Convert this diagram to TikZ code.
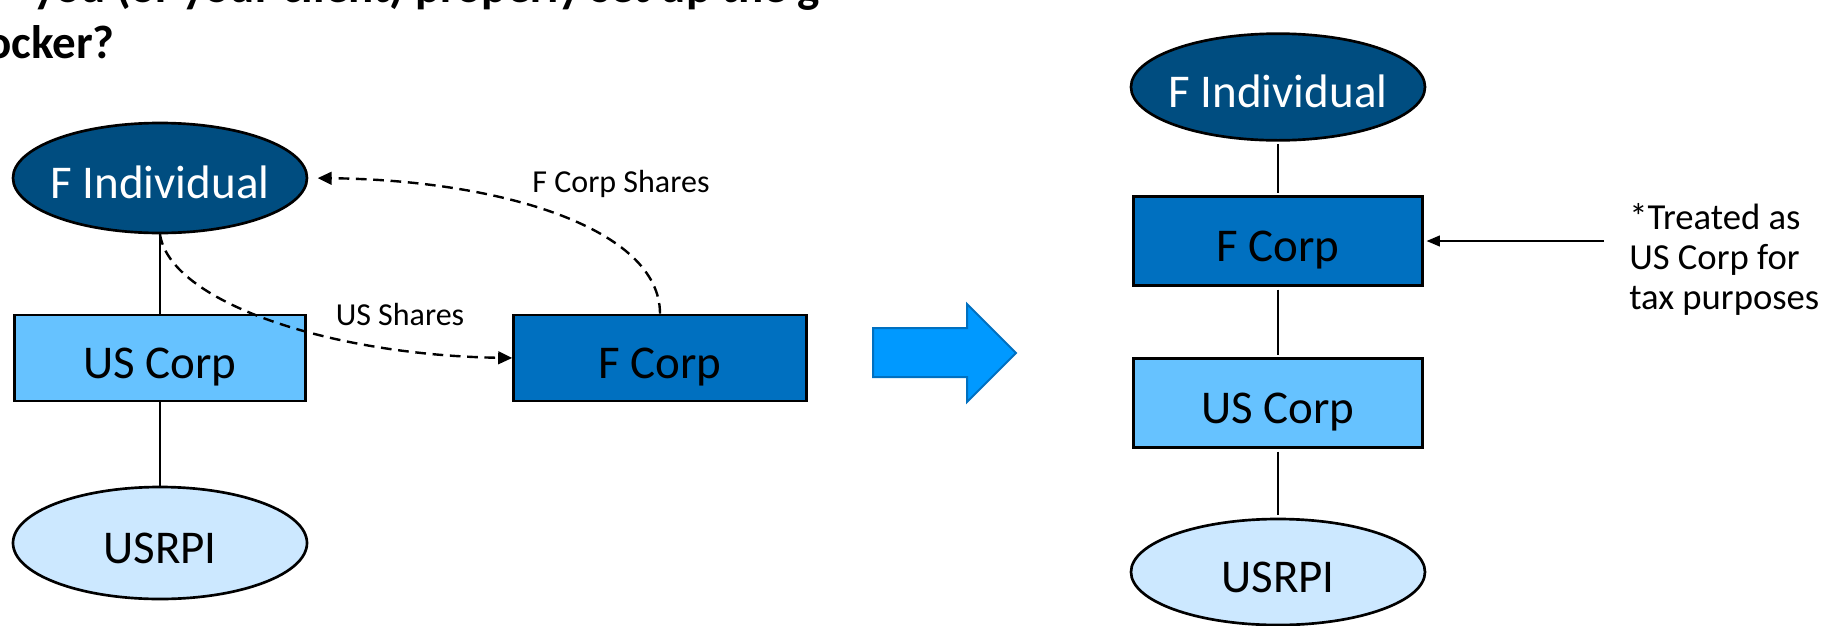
\documentclass[tikz,border=0pt]{standalone}
\usepackage{fontspec}
\setmainfont{Carlito}
\usetikzlibrary{shapes.geometric,arrows.meta}
\definecolor{indiv}{HTML}{004D80}
\definecolor{uscorp}{HTML}{66C2FF}
\definecolor{usrpi}{HTML}{CCE8FF}
\definecolor{fcorp}{HTML}{0070C0}
\definecolor{bigarrow}{HTML}{0099FF}
\begin{document}
\begin{tikzpicture}[x=0.75pt, y=-0.75pt,
  ent/.style={draw=black, line width=2pt, inner sep=0pt,
    text height=30pt, text depth=0pt, font=\fontsize{35.25}{42}\selectfont},
  oval/.style={ent, ellipse, minimum width=220.5pt},
  boxed/.style={ent, rectangle, minimum width=218.25pt},
  link/.style={draw=black, line width=1.5pt},
  share/.style={draw=black, line width=1.8pt, dash pattern=on 8pt off 5pt,
    -{Triangle[length=10.5pt,width=9.5pt]}},
  small/.style={inner sep=0pt, font=\fontsize{24}{28}\selectfont},
  titletext/.style={inner sep=0pt, font=\bfseries\fontsize{35.25}{40}\selectfont}]
\useasboundingbox (0,0) rectangle (1828,625);

% heading, cut off by the page edge
\begin{scope}
  \clip (0,0) rectangle (1828,625);
  \node[titletext, anchor=base west] (head1) at (33,2) {you (or your client) properly set up the g};
  \node[titletext, anchor=base east] (head2) at (115,58) {ocker?};
\end{scope}

% structure before
\node[oval, fill=indiv, text=white, minimum height=82.5pt] (fi1) at (160,178) {\makebox[0pt]{F Individual}};
\node[boxed, fill=uscorp, minimum height=64.5pt] (us1) at (160,358) {US Corp};
\node[oval, fill=usrpi, minimum height=84pt] (ur1) at (160,543) {\makebox[0pt]{USRPI}};
\node[boxed, fill=fcorp, minimum width=219.75pt, minimum height=64.5pt] (fc1) at (660,358) {F Corp};

\draw[link] (fi1) -- (us1);
\draw[link] (us1) -- (ur1);

\draw[share] (fi1.south) .. controls +(10,67) and +(-184,-3) .. (fc1.west);
\draw[share, shorten >=7pt] (fc1.north) .. controls +(0,-85) and +(193,2) .. (fi1.east);
\node[small] (lab1) at (400,315) {US Shares};
\node[small] (lab2) at (621,184) {F Corp Shares};

% transition arrow
\path[draw=fcorp, fill=bigarrow, line width=1.5pt, line join=miter]
  (873,328) -- (967,328) -- (967,304) -- (1016,353) -- (967,402) -- (967,377) -- (873,377) -- cycle;

% structure after
\node[oval, fill=indiv, text=white, minimum height=80pt] (fi2) at (1278,87) {\makebox[0pt]{F Individual}};
\node[boxed, fill=fcorp, minimum width=216.75pt, minimum height=66.75pt] (fc2) at (1278,241) {F Corp};
\node[boxed, fill=uscorp, minimum width=216.75pt, minimum height=66.75pt] (us2) at (1278,403) {US Corp};
\node[oval, fill=usrpi, minimum height=79.5pt] (ur2) at (1278,572) {\makebox[0pt]{USRPI}};

\draw[link, shorten <=2pt, shorten >=2pt] (fi2) -- (fc2);
\draw[link, shorten <=2pt, shorten >=2pt] (fc2) -- (us2);
\draw[link, shorten <=2pt, shorten >=2pt] (us2) -- (ur2);

\node[anchor=north west, inner sep=0pt, align=left, font=\fontsize{27.5}{30}\selectfont] (note) at (1629,203)
  {*Treated as\\US Corp for\\tax purposes};
\coordinate (noteend) at (1604,241);
\draw[link, -{Triangle[length=10pt,width=8pt]}, shorten >=2pt] (noteend) -- (fc2.east);
\end{tikzpicture}
\end{document}
